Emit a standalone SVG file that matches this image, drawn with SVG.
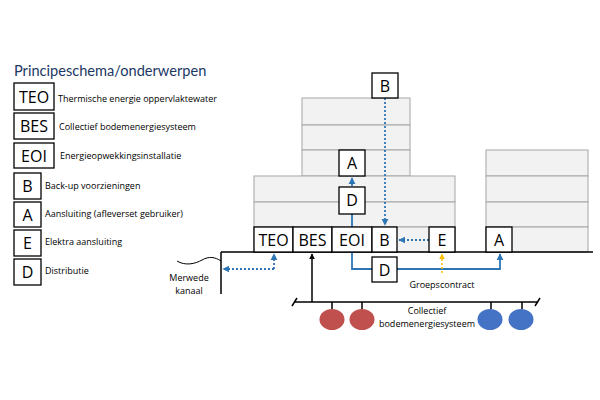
<svg xmlns="http://www.w3.org/2000/svg" width="600" height="400" viewBox="0 0 600 400">
<style>
.bx{fill:#fff;stroke:#000;stroke-width:1.3}
.bt{font-family:"Open Sans","Liberation Sans",sans-serif;font-size:16px;fill:#000;text-anchor:middle}
.lt{font-family:"Open Sans","Liberation Sans",sans-serif;font-size:9px;fill:#000}
.sm{font-family:"Open Sans","Liberation Sans",sans-serif;font-size:9px;fill:#000;text-anchor:middle}
.fl{fill:#f2f2f2;stroke:#a6a6a6;stroke-width:1}
.bl{fill:none;stroke:#2e75b6;stroke-width:1.8}
.bd{fill:none;stroke:#2e75b6;stroke-width:1.8;stroke-dasharray:2 2}
.yd{fill:none;stroke:#ffc000;stroke-width:1.5;stroke-dasharray:2 2}
.k{fill:none;stroke:#000;stroke-width:1.5}
</style>
<defs>
<marker id="ab" viewBox="0 0 10 10" refX="9" refY="5" markerWidth="4" markerHeight="4" orient="auto"><path d="M0 0L10 5L0 10z" fill="#2e75b6"/></marker>
<marker id="ay" viewBox="0 0 10 10" refX="9" refY="5" markerWidth="4" markerHeight="4" orient="auto"><path d="M0 0L10 5L0 10z" fill="#ffc000"/></marker>
<marker id="ak" viewBox="0 0 10 10" refX="9" refY="5" markerWidth="4" markerHeight="4" orient="auto"><path d="M0 0L10 5L0 10z" fill="#000"/></marker>
</defs>
<rect width="600" height="400" fill="#fff"/>
<text x="14" y="76" font-family="Lato,Open Sans,sans-serif" font-size="14.6" fill="#203864">Principeschema/onderwerpen</text>
<g id="legend">
<rect class="bx" x="14" y="83" width="40" height="27"/><text class="bt" x="34" y="103">TEO</text><text class="lt" x="58" y="102">Thermische energie oppervlaktewater</text>
<rect class="bx" x="14" y="113" width="40" height="26"/><text class="bt" x="34" y="132">BES</text><text class="lt" x="59" y="130">Collectief bodemenergiesysteem</text>
<rect class="bx" x="14" y="143" width="40" height="25"/><text class="bt" x="34" y="162">EOI</text><text class="lt" x="60" y="159">Energieopwekkingsinstallatie</text>
<rect class="bx" x="14" y="173" width="27" height="26"/><text class="bt" x="27.5" y="192">B</text><text class="lt" x="45" y="189">Back-up voorzieningen</text>
<rect class="bx" x="14" y="202" width="27" height="25"/><text class="bt" x="27.5" y="221">A</text><text class="lt" x="45" y="217">Aansluiting (afleverset gebruiker)</text>
<rect class="bx" x="14" y="230" width="27" height="26"/><text class="bt" x="27.5" y="249">E</text><text class="lt" x="45" y="245">Elektra aansluiting</text>
<rect class="bx" x="14" y="259" width="27" height="26"/><text class="bt" x="27.5" y="278">D</text><text class="lt" x="45" y="274">Distributie</text>
</g>
<g id="buildings">
<rect class="fl" x="302" y="98" width="108" height="27"/>
<rect class="fl" x="302" y="125" width="108" height="25"/>
<rect class="fl" x="302" y="150" width="108" height="26"/>
<rect class="fl" x="254" y="176" width="201" height="26"/>
<rect class="fl" x="254" y="202" width="201" height="25"/>
<rect class="fl" x="254" y="227" width="201" height="25"/>
<rect class="fl" x="486" y="150" width="102" height="26"/>
<rect class="fl" x="486" y="176" width="102" height="26"/>
<rect class="fl" x="486" y="202" width="102" height="25"/>
<rect class="fl" x="486" y="227" width="102" height="25"/>
</g>
<g id="ground">
<path class="k" d="M221 252H593M221 252V294"/>
<path d="M177 261C185 266 195 264 202 260C209 256 215 257 221 261" fill="none" stroke="#000" stroke-width="1"/>
<text class="sm" x="189" y="281">Merwede</text>
<text class="sm" x="189" y="294">kanaal</text>
<path class="k" d="M294 302H537M292 306L297 298M535 306L540 298"/>
<path class="k" d="M332 302V309M362 302V309M491 302V309M522 302V309"/>
<ellipse cx="332" cy="319.5" rx="12.5" ry="10.5" fill="#c0504d"/>
<ellipse cx="362" cy="319.5" rx="12.5" ry="10.5" fill="#c0504d"/>
<ellipse cx="490" cy="319.5" rx="12.5" ry="10.5" fill="#4472c4"/>
<ellipse cx="521" cy="319.5" rx="12.5" ry="10.5" fill="#4472c4"/>
<text class="sm" x="427" y="314">Collectief</text>
<text class="sm" x="427" y="327">bodemenergiesysteem</text>
<text class="sm" x="442" y="288">Groepscontract</text>
</g>
<g id="connectors">
<path class="bd" d="M385 98V225" marker-end="url(#ab)"/>
<path class="bl" d="M352 227V214"/>
<path class="bl" d="M352 186V178" marker-end="url(#ab)"/>
<path class="bl" d="M352 252V269H372"/>
<path class="bl" d="M397 269H500V254" marker-end="url(#ab)"/>
<path class="bd" d="M429 240H399" marker-end="url(#ab)"/>
<path class="yd" d="M442 273V254" marker-end="url(#ay)"/>
<path class="bd" d="M274 269H223" marker-end="url(#ab)"/>
<path class="bd" d="M274 269V254" marker-end="url(#ab)"/>
<path class="k" d="M312 302V254" marker-end="url(#ak)"/>
</g>
<g id="n-B-top"><rect class="bx" x="372" y="73" width="26" height="25"/><text class="bt" x="385" y="92">B</text></g>
<g id="n-A-top"><rect class="bx" x="339" y="150" width="26" height="26"/><text class="bt" x="352" y="169">A</text></g>
<g id="n-D-top"><rect class="bx" x="339" y="187" width="26" height="27"/><text class="bt" x="352" y="206">D</text></g>
<g id="n-TEO"><rect class="bx" x="254" y="227" width="39" height="25"/><text class="bt" x="273.5" y="246">TEO</text></g>
<g id="n-BES"><rect class="bx" x="293" y="227" width="39" height="25"/><text class="bt" x="312.5" y="246">BES</text></g>
<g id="n-EOI"><rect class="bx" x="332" y="227" width="40" height="25"/><text class="bt" x="352" y="246">EOI</text></g>
<g id="n-B"><rect class="bx" x="372" y="227" width="25" height="25"/><text class="bt" x="384.5" y="246">B</text></g>
<g id="n-E"><rect class="bx" x="429" y="227" width="26" height="25"/><text class="bt" x="442" y="246">E</text></g>
<g id="n-A"><rect class="bx" x="486" y="227" width="26" height="25"/><text class="bt" x="499" y="246">A</text></g>
<g id="n-D"><rect class="bx" x="372" y="257" width="25" height="25"/><text class="bt" x="384.5" y="276">D</text></g>
</svg>
